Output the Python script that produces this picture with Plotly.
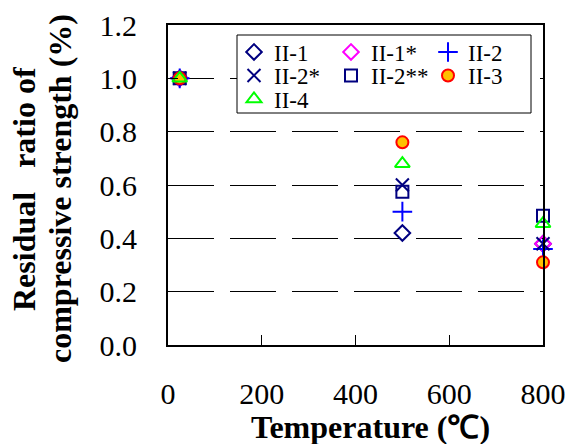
import plotly.graph_objects as go

temps = [25, 500, 800]
names = ["II-1", "II-1*", "II-2", "II-2*", "II-2**", "II-3", "II-4"]
values = {
    "II-1":   [1.0, 0.42, 0.38],
    "II-1*":  [1.0, None, 0.38],
    "II-2":   [1.0, 0.50, 0.36],
    "II-2*":  [1.0, 0.60, 0.38],
    "II-2**": [1.0, 0.575, 0.485],
    "II-3":   [1.0, 0.76, 0.31],
    "II-4":   [1.0, 0.68, 0.455],
}
styles = {
    "II-1":   dict(symbol="diamond-open", color="#000080", size=12, lw=2),
    "II-1*":  dict(symbol="diamond-open", color="#FF00FF", size=12, lw=2),
    "II-2":   dict(symbol="cross-thin-open", color="#0000FF", size=14, lw=2),
    "II-2*":  dict(symbol="x-thin-open", color="#000080", size=13, lw=2),
    "II-2**": dict(symbol="square-open", color="#000080", size=12, lw=2),
    "II-3":   dict(symbol="circle", color="#FFC000", size=12, lw=2, line="#FF0000"),
    "II-4":   dict(symbol="triangle-up-open", color="#00FF00", size=13, lw=2),
}
# legend grid: (column, row) of each entry, reading order of the reference legend
legend_slots = {"II-1": (0, 0), "II-1*": (1, 0), "II-2": (2, 0),
                "II-2*": (0, 1), "II-2**": (1, 1), "II-3": (2, 1),
                "II-4": (0, 2)}

W, H = 568, 444
L, R, T, B = 168, 25, 25, 99
pw, ph = W - L - R, H - T - B
def px2x(px): return (px - L) / pw
def py2y(py): return (H - B - py) / ph

font = "Liberation Serif"
fig = go.Figure()
legends = {}
for i, n in enumerate(names):
    s = styles[n]
    lname = "legend" if i == 0 else f"legend{i+1}"
    fig.add_trace(go.Scatter(
        x=temps, y=values[n], mode="markers", name=n, cliponaxis=False,
        legend=lname,
        marker=dict(symbol=s["symbol"], color=s["color"], size=s["size"],
                    line=dict(width=s["lw"], color=s.get("line", s["color"]))),
    ))
    col, row = legend_slots[n]
    legends[lname] = dict(
        x=px2x(234 + 97 * col), y=py2y(52 + 23.5 * row),
        xanchor="left", yanchor="middle", bgcolor="rgba(0,0,0,0)",
        borderwidth=0, font=dict(size=23, family=font, color="black"),
        itemwidth=30, orientation="v",
    )

fig.update_layout(
    width=W, height=H,
    margin=dict(l=L, r=R, t=T, b=B, autoexpand=False),
    paper_bgcolor="white", plot_bgcolor="white",
    font=dict(family=font, size=20, color="black"),
    showlegend=True,
    **legends,
    shapes=[dict(type="rect", xref="paper", yref="paper",
                 x0=px2x(237), x1=px2x(531), y0=py2y(113), y1=py2y(35),
                 line=dict(color="black", width=1), fillcolor="white",
                 layer="above")],
    xaxis=dict(range=[0, 800], tickvals=[0, 200, 400, 600, 800],
               automargin=False,
               showgrid=False, zeroline=False, showline=True, linecolor="black",
               linewidth=2, mirror=True, ticks="inside", ticklen=10, tickcolor="black",
               ticklabelstandoff=21, tickfont=dict(size=30, family=font)),
    yaxis=dict(range=[0, 1.2], tickvals=[0, 0.2, 0.4, 0.6, 0.8, 1.0, 1.2],
               tickformat=".1f", automargin=False,
               showgrid=True, gridcolor="black", gridwidth=1, griddash="46px,16px",
               zeroline=False, showline=True, linecolor="black", linewidth=2,
               mirror=True, ticks="inside", ticklen=10, tickcolor="black",
               ticklabelstandoff=23, tickfont=dict(size=30, family=font)),
    annotations=[
        dict(text="<b>Temperature (℃)</b>", xref="paper", yref="paper",
             x=px2x(370), y=py2y(427), xanchor="center", yanchor="middle",
             showarrow=False, font=dict(size=32, family=font)),
        dict(text="<b>Residual   ratio of</b>", xref="paper", yref="paper",
             x=px2x(24), y=py2y(189), xanchor="center", yanchor="middle",
             textangle=-90, showarrow=False, font=dict(size=32, family=font)),
        dict(text="<b>compressive strength (%)</b>", xref="paper", yref="paper",
             x=px2x(60), y=py2y(189), xanchor="center", yanchor="middle",
             textangle=-90, showarrow=False, font=dict(size=32, family=font)),
    ],
)
fig.write_html("out.html")
